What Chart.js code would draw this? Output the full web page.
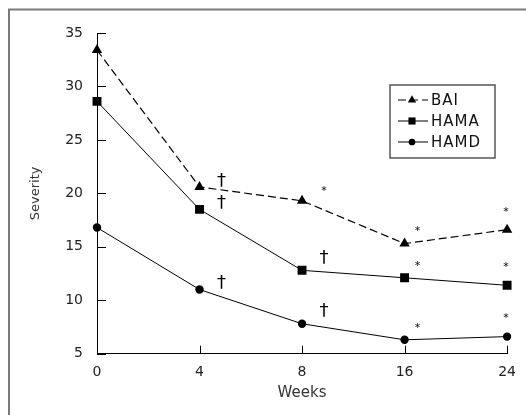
<!DOCTYPE html>
<html>
<head>
<meta charset="utf-8">
<script src="https://cdn.jsdelivr.net/npm/chart.js@4"></script>
<style>
html, body { margin: 0; padding: 0; background: #fff; }
#wrap { width: 526px; height: 415px; position: relative; }
</style>
</head>
<body>
<div id="wrap"><canvas id="chart"></canvas></div>
<script>
let weeks = ['0', '4', '8', '16', '24'];
let bai = [33.4, 20.6, 19.3, 15.3, 16.6];
let hama = [28.6, 18.5, 12.8, 12.1, 11.4];
let hamd = [16.8, 11.0, 7.8, 6.3, 6.6];
// significance marks next to each point
let baiMarks = ['', '†', '*', '*', '*'];
let hamaMarks = ['', '†', '†', '*', '*'];
let hamdMarks = ['', '†', '†', '*', '*'];

const FONT = 'DejaVu Sans';
const ctx = document.getElementById('chart').getContext('2d');

let framePlugin = {
	id: 'frame',
	beforeDraw: function (chart) {
		let c = chart.ctx;
		c.save();
		c.strokeStyle = '#7a7a7a';
		c.lineWidth = 2;
		c.beginPath();
		c.moveTo(9, 415);
		c.lineTo(9, 9.5);
		c.lineTo(526, 9.5);
		c.stroke();
		c.restore();
	}
};

let extrasPlugin = {
	id: 'extras',
	afterDraw: function (chart) {
		let c = chart.ctx;
		let xs = chart.scales.x;
		let ys = chart.scales.y;
		let area = chart.chartArea;
		c.save();
		c.strokeStyle = '#000';
		c.lineWidth = 1;
		// inward tick marks
		c.beginPath();
		ys.ticks.forEach(t => {
			let y = Math.round(ys.getPixelForValue(t.value)) + 0.5;
			c.moveTo(area.left, y);
			c.lineTo(area.left + 9, y);
		});
		weeks.forEach((w, i) => {
			let x = Math.round(xs.getPixelForValue(i)) + 0.5;
			c.moveTo(x, area.bottom);
			c.lineTo(x, area.bottom - 8);
		});
		c.stroke();

		// significance marks
		let offsets = [[0, 0], [22, -6], [22, -12], [13, -14], [-1, -20]];
		let marks = [baiMarks, hamaMarks, hamdMarks];
		c.fillStyle = '#000';
		c.textAlign = 'center';
		c.textBaseline = 'middle';
		chart.data.datasets.forEach((ds, i) => {
			ds.data.forEach((v, j) => {
				let m = marks[i][j];
				if (!m) return;
				let x = xs.getPixelForValue(j) + offsets[j][0];
				let y = ys.getPixelForValue(v) + offsets[j][1];
				if (m === '*') {
					c.font = '11px ' + FONT;
					c.fillText(m, x, y + 2);
				} else {
					c.font = '18px ' + FONT;
					c.fillText(m, x, y);
				}
			});
		});

		// legend box
		let lg = { x: 390, y: 85, w: 105, h: 73 };
		c.strokeStyle = '#555';
		c.lineWidth = 1.5;
		c.strokeRect(lg.x, lg.y, lg.w, lg.h);
		c.font = '15px ' + FONT;
		c.textAlign = 'left';
		chart.data.datasets.forEach((ds, i) => {
			let y = lg.y + 15 + i * 21;
			c.strokeStyle = '#000';
			c.lineWidth = 1;
			c.setLineDash(ds.borderDash || []);
			c.beginPath();
			c.moveTo(lg.x + 8, y);
			c.lineTo(lg.x + 38, y);
			c.stroke();
			c.setLineDash([]);
			c.fillStyle = '#000';
			Chart.helpers.drawPoint(c, {
				pointStyle: ds.pointStyle,
				radius: ds.pointRadius * 0.8,
				rotation: 0,
				borderWidth: 0
			}, lg.x + 22, y);
			c.fillStyle = '#111';
			c.letterSpacing = '1px';
			c.fillText(ds.label, lg.x + 41, y + 1);
			c.letterSpacing = '0px';
		});
		c.restore();
	}
};

const chart = new Chart(ctx, {
	type: 'line',
	data: {
		labels: weeks,
		datasets: [{
			label: 'BAI',
			data: bai,
			borderColor: '#000',
			backgroundColor: '#000',
			borderWidth: 1.2,
			borderDash: [8, 4],
			pointStyle: 'triangle',
			pointRadius: 6,
			pointBorderWidth: 0
		}, {
			label: 'HAMA',
			data: hama,
			borderColor: '#000',
			backgroundColor: '#000',
			borderWidth: 1,
			pointStyle: 'rect',
			pointRadius: 6.3,
			pointBorderWidth: 0
		}, {
			label: 'HAMD',
			data: hamd,
			borderColor: '#000',
			backgroundColor: '#000',
			borderWidth: 1,
			pointStyle: 'circle',
			pointRadius: 4.2,
			pointBorderWidth: 0
		}]
	},
	options: {
		responsive: true,
		maintainAspectRatio: false,
		animation: false,
		devicePixelRatio: 1,
		layout: {
			padding: { top: 33, right: 15, left: 0, bottom: 0 }
		},
		plugins: {
			legend: { display: false },
			tooltip: { enabled: false }
		},
		scales: {
			x: {
				type: 'category',
				offset: false,
				grid: { display: false, drawTicks: false },
				border: { display: true, color: '#000', width: 1 },
				ticks: {
					padding: 10,
					color: '#222',
					font: { family: FONT, size: 14 }
				},
				title: {
					display: true,
					text: 'Weeks',
					color: '#333',
					font: { family: FONT, size: 15 },
					padding: { top: 0, bottom: 13 }
				},
				afterFit: function (s) { s.height = 61.3; }
			},
			y: {
				min: 5,
				max: 35,
				grid: { display: false, drawTicks: false },
				border: { display: true, color: '#000', width: 1 },
				ticks: {
					stepSize: 5,
					padding: 14,
					color: '#222',
					font: { family: FONT, size: 14 }
				},
				title: {
					display: true,
					text: 'Severity',
					color: '#333',
					font: { family: FONT, size: 13 },
					padding: { top: 28, bottom: 0 }
				},
				afterFit: function (s) { s.width = 97; }
			}
		}
	},
	plugins: [framePlugin, extrasPlugin]
});
</script>
</body>
</html>
